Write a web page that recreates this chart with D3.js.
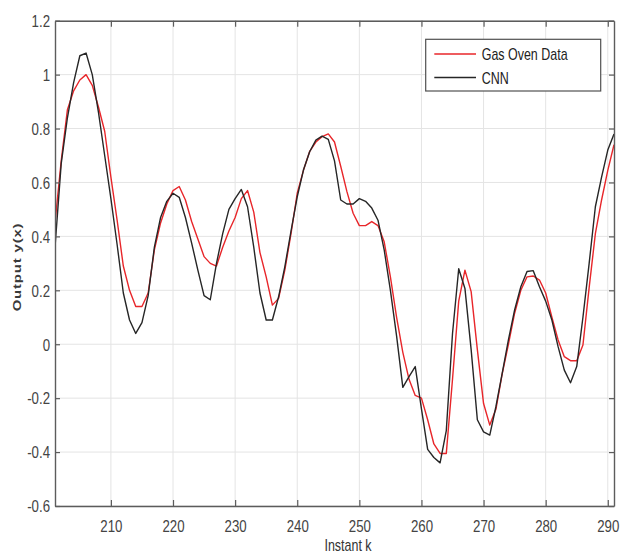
<!DOCTYPE html>
<html>
<head>
<meta charset="utf-8">
<script src="https://cdn.jsdelivr.net/npm/d3@7"></script>
<style>
  html, body { margin: 0; padding: 0; background: #ffffff; }
  svg { display: block; font-family: "Liberation Sans", Arial, sans-serif; }
</style>
</head>
<body>
<svg id="chart" width="621" height="556"></svg>
<script>
// ---- data ----
const instants = d3.range(201, 292);
const gasOvenData = [
  0.45, 0.68, 0.87, 0.94, 0.98, 1.00, 0.96, 0.88, 0.79, 0.62,
  0.46, 0.29, 0.20, 0.14, 0.14, 0.19, 0.35, 0.45, 0.52, 0.57,
  0.585, 0.535, 0.455, 0.39, 0.325, 0.30, 0.29, 0.36, 0.42, 0.47,
  0.54, 0.57, 0.49, 0.34, 0.25, 0.145, 0.17, 0.275, 0.41, 0.56,
  0.645, 0.715, 0.75, 0.77, 0.78, 0.75, 0.66, 0.566, 0.486, 0.44,
  0.44, 0.455, 0.44, 0.38, 0.25, 0.10, -0.03, -0.13, -0.19, -0.20,
  -0.28, -0.37, -0.405, -0.405, -0.13, 0.16, 0.275, 0.195, -0.02, -0.22,
  -0.30, -0.24, -0.11, 0.0, 0.115, 0.20, 0.25, 0.253, 0.238, 0.19,
  0.10, 0.016, -0.046, -0.061, -0.061, -0.003, 0.21, 0.41, 0.535, 0.645,
  0.74
];
const cnnOutput = [
  0.36, 0.67, 0.84, 0.97, 1.07, 1.08, 1.00, 0.86, 0.70, 0.54,
  0.37, 0.19, 0.09, 0.04, 0.08, 0.18, 0.36, 0.47, 0.53, 0.56,
  0.545, 0.47, 0.375, 0.275, 0.18, 0.165, 0.30, 0.41, 0.50, 0.54,
  0.574, 0.51, 0.36, 0.19, 0.09, 0.09, 0.176, 0.287, 0.42, 0.547,
  0.646, 0.714, 0.757, 0.772, 0.76, 0.68, 0.535, 0.52, 0.52, 0.54,
  0.53, 0.505, 0.46, 0.35, 0.20, 0.03, -0.16, -0.12, -0.083, -0.24,
  -0.39, -0.42, -0.44, -0.32, 0.04, 0.28, 0.207, -0.02, -0.28, -0.325,
  -0.337, -0.23, -0.108, 0.016, 0.127, 0.213, 0.27, 0.273, 0.213, 0.16,
  0.09, -0.009, -0.096, -0.143, -0.083, 0.10, 0.30, 0.51, 0.62, 0.72,
  0.78
];
const xTickValues = [210, 220, 230, 240, 250, 260, 270, 280, 290];
const yTickValues = [-0.6, -0.4, -0.2, 0, 0.2, 0.4, 0.6, 0.8, 1, 1.2];
const seriesNames = ["Gas Oven Data", "CNN"];
const seriesColors = ["#e8262a", "#262626"];
const xLabel = "Instant k";
const yLabel = "Output y(x)";

// ---- layout ----
const L = 55, R = 614, T = 20.7, B = 506;
const SX = 0.78; // horizontal squeeze of the text
const axisColor = "#5c5c5c";
const textColor = "#444";

const svg = d3.select("#chart");
const x = d3.scaleLinear().domain([201, 291]).range([L, R]);
const y = d3.scaleLinear().domain([-0.6, 1.2]).range([B, T]);
const fmt = d => String(+d.toFixed(1));

// grid
const grid = svg.append("g");
grid.selectAll("line.gx").data(xTickValues).join("line")
  .attr("x1", d => x(d)).attr("x2", d => x(d)).attr("y1", T).attr("y2", B)
  .attr("stroke", "#e4e4e4").attr("stroke-width", 1);
grid.selectAll("line.gy").data(yTickValues).join("line")
  .attr("x1", L).attr("x2", R).attr("y1", d => y(d)).attr("y2", d => y(d))
  .attr("stroke", "#e4e4e4").attr("stroke-width", 1);

// lines
svg.append("clipPath").attr("id", "clip").append("rect")
  .attr("x", L).attr("y", T).attr("width", R - L).attr("height", B - T);
const line = d3.line().x((d, i) => x(instants[i])).y(d => y(d));
const plot = svg.append("g").attr("clip-path", "url(#clip)");
plot.append("path").datum(gasOvenData).attr("d", line)
  .attr("fill", "none").attr("stroke", seriesColors[0]).attr("stroke-width", 1.4)
  .attr("stroke-linejoin", "round");
plot.append("path").datum(cnnOutput).attr("d", line)
  .attr("fill", "none").attr("stroke", seriesColors[1]).attr("stroke-width", 1.4)
  .attr("stroke-linejoin", "round");

// axes (MATLAB style box, inward ticks)
function styleAxis(g) {
  g.select(".domain").attr("stroke", axisColor).attr("stroke-width", 1.4);
  g.selectAll(".tick line").attr("stroke", axisColor).attr("stroke-width", 1.2);
}
const xb = svg.append("g").attr("transform", `translate(0,${B})`)
  .call(d3.axisBottom(x).tickValues(xTickValues).tickSize(-6).tickSizeOuter(0).tickFormat(fmt));
styleAxis(xb);
xb.selectAll(".tick text")
  .attr("y", 26).attr("dy", 0)
  .attr("fill", textColor).attr("font-size", 17)
  .attr("transform", `scale(${SX},1)`);

const xt = svg.append("g").attr("transform", `translate(0,${T})`)
  .call(d3.axisTop(x).tickValues(xTickValues).tickSize(-6).tickSizeOuter(0).tickFormat(""));
styleAxis(xt);

const yl = svg.append("g").attr("transform", `translate(${L},0)`)
  .call(d3.axisLeft(y).tickValues(yTickValues).tickSize(-5).tickSizeOuter(0).tickFormat(fmt));
styleAxis(yl);
yl.selectAll(".tick text")
  .attr("x", -5 / SX).attr("dy", "0.34em")
  .attr("fill", textColor).attr("font-size", 17)
  .attr("transform", `scale(${SX},1)`);

const yr = svg.append("g").attr("transform", `translate(${R},0)`)
  .call(d3.axisRight(y).tickValues(yTickValues).tickSize(-5).tickSizeOuter(0).tickFormat(""));
styleAxis(yr);

// axis labels
svg.append("g").attr("transform", `translate(348,551) scale(${SX},1)`)
  .append("text").attr("text-anchor", "middle").attr("font-size", 16)
  .attr("fill", "#333").text(xLabel);
svg.append("g").attr("transform", `translate(21,267) rotate(-90) scale(1,${SX})`)
  .append("text").attr("text-anchor", "middle").attr("font-size", 15)
  .attr("font-weight", "bold").attr("letter-spacing", 0.8)
  .attr("fill", "#3a3a3a").text(yLabel);

// legend
const lg = svg.append("g");
lg.append("rect").attr("x", 425.7).attr("y", 39.3).attr("width", 175).attr("height", 51.7)
  .attr("fill", "#fff").attr("stroke", "#505050").attr("stroke-width", 1.2);
const legendRows = [54, 77.5];
seriesNames.forEach((name, i) => {
  lg.append("line").attr("x1", 434.3).attr("x2", 476).attr("y1", legendRows[i]).attr("y2", legendRows[i])
    .attr("stroke", seriesColors[i]).attr("stroke-width", 1.6);
  lg.append("g").attr("transform", `translate(481.7,${legendRows[i] + 6}) scale(${SX},1)`)
    .append("text").attr("font-size", 16).attr("fill", "#222").text(name);
});
</script>
</body>
</html>
